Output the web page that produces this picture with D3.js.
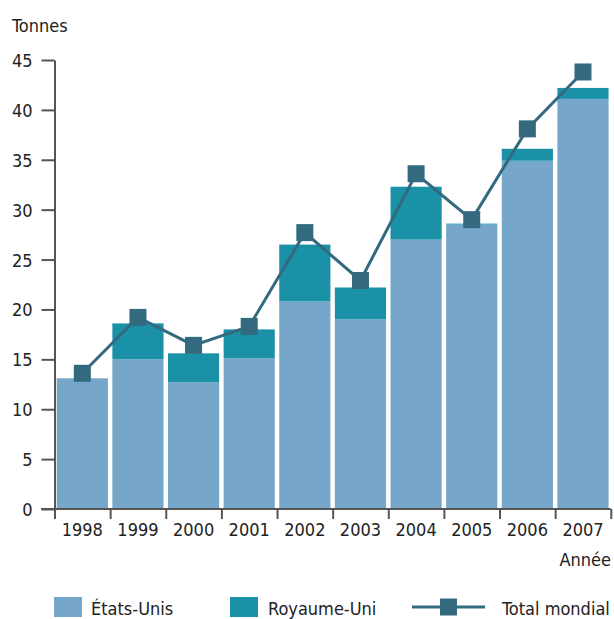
<!DOCTYPE html>
<html>
<head>
<meta charset="utf-8">
<script src="https://cdn.jsdelivr.net/npm/d3@7"></script>
<style>
  html, body { margin: 0; padding: 0; background: #fff; }
  svg text { font-family: "DejaVu Sans Condensed", "DejaVu Sans", sans-serif; font-stretch: condensed; fill: #222; font-size: 18px; }
</style>
</head>
<body>
<svg id="chart" width="614" height="619"></svg>
<script>
const years = ["1998","1999","2000","2001","2002","2003","2004","2005","2006","2007"];
const usValues = [13.1, 15.0, 12.7, 15.1, 20.8, 19.0, 27.0, 28.5, 34.9, 41.1];
const ukValues = [0, 3.6, 2.9, 2.9, 5.7, 3.2, 5.3, 0.1, 1.2, 1.1];
const totalValues = [13.6, 19.2, 16.4, 18.3, 27.7, 22.9, 33.6, 29.0, 38.1, 43.8];
const yTicks = [0, 5, 10, 15, 20, 25, 30, 35, 40, 45];
const seriesNames = ["États-Unis", "Royaume-Uni", "Total mondial"];

const colUS = "#76a7cb", colUK = "#1b91a8", colTot = "#336a80", axisCol = "#555";

const svg = d3.select("#chart");
const x0 = 54.5, x1 = 610.8;
const x = d3.scaleBand().domain(years).range([x0, x1]).paddingInner(0.08).paddingOuter(0.04);
const y = d3.scaleLinear().domain([0, 45]).range([509, 60]);

// bars
const g = svg.append("g");
g.selectAll("rect.us").data(years).join("rect")
  .attr("x", d => x(d)).attr("width", x.bandwidth())
  .attr("y", (d, i) => y(usValues[i])).attr("height", (d, i) => y(0) - y(usValues[i]))
  .attr("fill", colUS);
g.selectAll("rect.uk").data(years).join("rect")
  .attr("x", d => x(d)).attr("width", x.bandwidth())
  .attr("y", (d, i) => y(usValues[i] + ukValues[i]))
  .attr("height", (d, i) => y(usValues[i]) - y(usValues[i] + ukValues[i]))
  .attr("fill", colUK);

// y axis
const yAxis = svg.append("g").attr("transform", `translate(${x0},0)`)
  .call(d3.axisLeft(y).tickValues(yTicks).tickSize(13).tickSizeOuter(0).tickPadding(9));
yAxis.select(".domain").attr("stroke", axisCol).attr("stroke-width", 2);
yAxis.selectAll(".tick line").attr("stroke", axisCol).attr("stroke-width", 2);
yAxis.selectAll(".tick text").attr("font-size", 18).attr("dy", "0.36em").style("font-family", null);

// x axis boundary ticks
const xb = d3.scaleLinear().domain([0, years.length]).range([x0, x1]);
const xTickAxis = svg.append("g").attr("transform", `translate(0,${y(0)})`)
  .call(d3.axisBottom(xb).tickValues(d3.range(0, years.length + 1)).tickSize(10).tickSizeOuter(0).tickFormat(""));
xTickAxis.select(".domain").remove();
xTickAxis.selectAll(".tick line").attr("stroke", axisCol).attr("stroke-width", 2);
svg.append("line").attr("x1", 41).attr("x2", x1).attr("y1", y(0)).attr("y2", y(0))
  .attr("stroke", axisCol).attr("stroke-width", 2);

// x labels
const xAxis = svg.append("g").attr("transform", `translate(0,${y(0)})`)
  .call(d3.axisBottom(x).tickSize(0).tickPadding(14));
xAxis.select(".domain").remove();
xAxis.selectAll(".tick text").attr("font-size", 18).attr("dy", "0.71em").style("font-family", null);

// total line
const line = d3.line().x((d, i) => x(years[i]) + x.bandwidth() / 2).y(d => y(d));
svg.append("path").datum(totalValues).attr("d", line)
  .attr("fill", "none").attr("stroke", colTot).attr("stroke-width", 3);
const ms = 17;
svg.selectAll("rect.mk").data(totalValues).join("rect")
  .attr("x", (d, i) => x(years[i]) + x.bandwidth() / 2 - ms / 2)
  .attr("y", d => y(d) - ms / 2).attr("width", ms).attr("height", ms).attr("fill", colTot);

// axis titles
svg.append("text").attr("x", 12).attr("y", 32).text("Tonnes");
svg.append("text").attr("x", 611).attr("y", 566).attr("text-anchor", "end").text("Année");

// legend
const lg = svg.append("g");
lg.append("rect").attr("x", 54).attr("y", 597).attr("width", 28).attr("height", 20).attr("fill", colUS);
lg.append("text").attr("x", 91).attr("y", 615).text(seriesNames[0]);
lg.append("rect").attr("x", 230).attr("y", 597).attr("width", 28).attr("height", 20).attr("fill", colUK);
lg.append("text").attr("x", 268).attr("y", 615).text(seriesNames[1]);
lg.append("line").attr("x1", 412).attr("x2", 485).attr("y1", 607).attr("y2", 607).attr("stroke", colTot).attr("stroke-width", 3);
lg.append("rect").attr("x", 440).attr("y", 598.5).attr("width", 17).attr("height", 17).attr("fill", colTot);
lg.append("text").attr("x", 502).attr("y", 615).text(seriesNames[2]);
</script>
</body>
</html>
